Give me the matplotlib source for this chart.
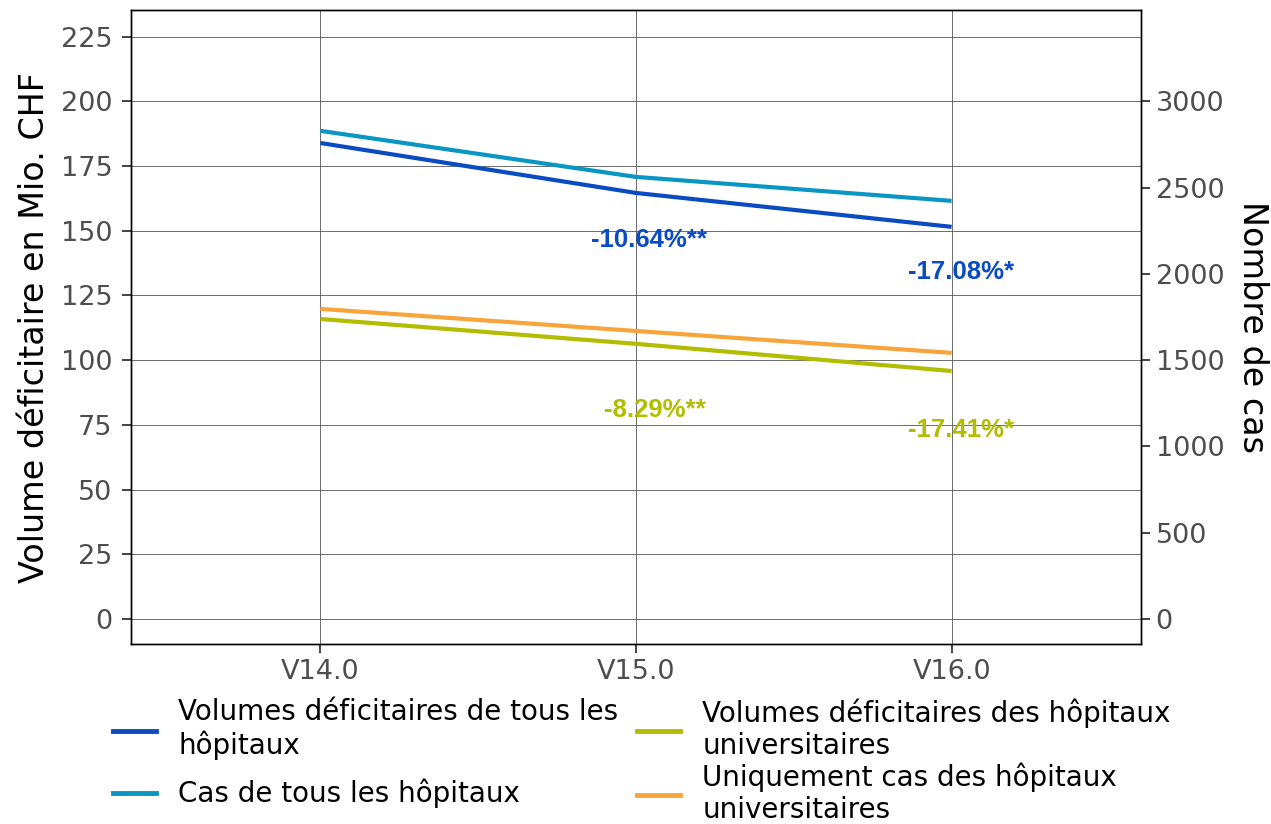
import numpy as np
import matplotlib.pyplot as plt
from matplotlib.lines import Line2D

versions = ['V14.0', 'V15.0', 'V16.0']
vol_tous = [183.9, 164.6, 151.5]          # Mio. CHF (left axis)
vol_univ = [115.9, 106.3, 95.8]
cas_tous = [2829, 2562, 2423]              # Nombre de cas (right axis)
cas_univ = [1797, 1669, 1542]

ann_tous = ['-10.64%**', '-17.08%*']
ann_univ = ['-8.29%**', '-17.41%*']
ann_tous_y = [146.4, 134.0]
ann_univ_y = [80.8, 73.0]

c_vol_tous = '#0A4BC2'
c_cas_tous = '#0A96C2'
c_vol_univ = '#B3BD00'
c_cas_univ = '#F7A43A'

fig = plt.figure(figsize=(12.71, 8.24), dpi=100)
ax = fig.add_axes([0.1031, 0.2184, 0.7946, 0.7695])
ax2 = ax.twinx()

x = np.arange(len(versions))
scale = 15.0  # secondary axis factor

ax.plot(x, vol_tous, color=c_vol_tous, lw=3, solid_capstyle='butt', zorder=3)
ax.plot(x, vol_univ, color=c_vol_univ, lw=3, solid_capstyle='butt', zorder=3)
ax2.plot(x, cas_tous, color=c_cas_tous, lw=3, solid_capstyle='butt', zorder=3)
ax2.plot(x, cas_univ, color=c_cas_univ, lw=3, solid_capstyle='butt', zorder=3)

dx_tous = [0.04, 0.03]
dx_univ = [0.06, 0.03]
for i, (t, yv) in enumerate(zip(ann_tous, ann_tous_y)):
    ax.text(x[i + 1] + dx_tous[i], yv, t, color=c_vol_tous, fontsize=18.5, fontweight='bold',
            family='Liberation Sans', ha='center', va='center')
for i, (t, yv) in enumerate(zip(ann_univ, ann_univ_y)):
    ax.text(x[i + 1] + dx_univ[i], yv, t, color=c_vol_univ, fontsize=18.5, fontweight='bold',
            family='Liberation Sans', ha='center', va='center')

ylo, yhi = -9.7, 235.3
ax.set_xlim(-0.6, 2.6)
ax.set_ylim(ylo, yhi)
ax2.set_ylim(ylo * scale, yhi * scale)

ax.set_xticks(x)
ax.set_xticklabels(versions)
ax.set_yticks(np.arange(0, 226, 25))
ax2.set_yticks(np.arange(0, 3001, 500))

ax.grid(True, color='#555555', lw=0.6)
ax.set_axisbelow(True)
for a in (ax, ax2):
    for s in a.spines.values():
        s.set_color('black')
        s.set_linewidth(1.0)
    a.tick_params(colors='#333333', labelcolor='#4D4D4D', labelsize=19.5,
                  length=6.5, width=1.3, pad=4)
ax.tick_params(axis='y', pad=7)

ax.set_ylabel('Volume déficitaire en Mio. CHF', fontsize=24, labelpad=7)
ax2.set_ylabel('Nombre de cas', fontsize=24, rotation=270, labelpad=32)

# legend: one entry per slot so rows line up across both columns
entries = [
    (c_vol_tous, 'Volumes déficitaires de tous les\nhôpitaux', 0.0889, 0.1150),
    (c_cas_tous, 'Cas de tous les hôpitaux', 0.0889, 0.0370),
    (c_vol_univ, 'Volumes déficitaires des hôpitaux\nuniversitaires', 0.5012, 0.1150),
    (c_cas_univ, 'Uniquement cas des hôpitaux\nuniversitaires', 0.5012, 0.0370),
]
for col, lab, lx, ly in entries:
    fig.legend([Line2D([], [], color=col, lw=3.5)], [lab], loc='center left',
               bbox_to_anchor=(lx, ly), frameon=False, fontsize=20,
               handlelength=1.55, handletextpad=0.8, borderpad=0, borderaxespad=0)

fig.savefig('out.png', dpi=100)
